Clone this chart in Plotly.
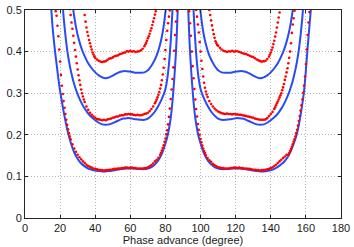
import plotly.graph_objects as go

# ---------------- data ----------------
# Blue theory curves, left lobe (0-90) and right lobe (90-180)
b1_left_x = [15.0, 15.5, 16, 17, 18, 19, 20, 21, 22, 23, 24, 25, 26, 27, 28, 30, 32, 34, 36, 38, 40, 42, 44, 46, 48, 50,
             52, 54, 56, 58, 60, 62, 64, 66, 68, 70, 72, 74, 76, 78, 79, 80, 81, 82, 83, 84, 84.5, 85, 85.5, 86, 86.5, 87]
b1_left_y = [0.50, 0.47, 0.445, 0.405, 0.37, 0.335, 0.305, 0.28, 0.256, 0.234, 0.214, 0.197, 0.182, 0.169, 0.158, 0.142,
             0.131, 0.124, 0.119, 0.116, 0.114, 0.113, 0.112, 0.112, 0.113, 0.114, 0.116, 0.117, 0.118, 0.119, 0.119,
             0.119, 0.118, 0.1175, 0.1175, 0.119, 0.122, 0.129, 0.139, 0.155, 0.166, 0.179, 0.194, 0.214, 0.24, 0.28,
             0.305, 0.333, 0.365, 0.40, 0.445, 0.50]
b1_right_x = [93, 93.5, 94, 94.5, 95, 95.5, 96, 97, 98, 99, 100, 101, 102, 104, 106, 108, 110, 112, 114, 116, 118, 120,
              122, 124, 126, 128, 130, 132, 134, 136, 138, 140, 142, 144, 146, 148, 150, 151, 152, 153, 154, 155, 156,
              157, 158, 159, 160, 161, 162, 162.8]
b1_right_y = [0.50, 0.445, 0.40, 0.365, 0.333, 0.305, 0.28, 0.24, 0.214, 0.194, 0.179, 0.166, 0.155, 0.139, 0.129, 0.122,
              0.119, 0.1175, 0.1175, 0.118, 0.119, 0.119, 0.119, 0.118, 0.117, 0.116, 0.114, 0.113, 0.112, 0.112, 0.113,
              0.115, 0.118, 0.123, 0.129, 0.137, 0.149, 0.157, 0.167, 0.178, 0.19, 0.205, 0.224, 0.248, 0.275, 0.307,
              0.355, 0.41, 0.46, 0.50]

b2_left_x = [21.7, 22, 23, 24, 25, 26, 27, 28, 29, 30, 32, 34, 36, 38, 40, 42, 44, 46, 48, 50, 52, 54, 56, 58, 60, 62,
             64, 66, 68, 70, 72, 74, 76, 77, 78, 79, 80, 81, 82, 82.5, 83, 83.5, 84]
b2_left_y = [0.50, 0.483, 0.44, 0.405, 0.378, 0.356, 0.338, 0.322, 0.309, 0.297, 0.278, 0.263, 0.251, 0.242, 0.235,
             0.229, 0.225, 0.224, 0.225, 0.228, 0.232, 0.236, 0.239, 0.24, 0.24, 0.238, 0.237, 0.236, 0.236, 0.239,
             0.246, 0.256, 0.27, 0.278, 0.287, 0.297, 0.31, 0.333, 0.37, 0.395, 0.425, 0.46, 0.50]
b2_right_x = [96, 96.5, 97, 97.5, 98, 99, 100, 101, 102, 103, 104, 106, 108, 110, 112, 114, 116, 118, 120, 122, 124,
              126, 128, 130, 132, 134, 136, 138, 140, 142, 144, 146, 148, 150, 151, 152, 153, 154, 155, 156, 157, 158,
              158.3]
b2_right_y = [0.50, 0.46, 0.425, 0.395, 0.37, 0.333, 0.31, 0.297, 0.287, 0.278, 0.27, 0.256, 0.246, 0.239, 0.236, 0.236,
              0.237, 0.238, 0.24, 0.24, 0.239, 0.236, 0.232, 0.228, 0.225, 0.224, 0.225, 0.229, 0.235, 0.242, 0.251,
              0.263, 0.278, 0.297, 0.309, 0.322, 0.338, 0.356, 0.378, 0.405, 0.44, 0.483, 0.50]

b3_left_x = [27.5, 28, 29, 30, 31, 32, 33, 34, 35, 36, 38, 40, 42, 44, 46, 48, 50, 52, 54, 56, 58, 60, 62, 64, 66, 68,
             70, 71, 72, 73, 74, 75, 76, 77, 78, 79, 80, 80.2]
b3_left_y = [0.50, 0.485, 0.46, 0.44, 0.424, 0.41, 0.399, 0.389, 0.38, 0.372, 0.36, 0.35, 0.343, 0.338, 0.336, 0.338,
             0.342, 0.347, 0.351, 0.353, 0.353, 0.352, 0.35, 0.349, 0.349, 0.35, 0.355, 0.36, 0.366, 0.373, 0.381,
             0.391, 0.403, 0.418, 0.437, 0.462, 0.495, 0.50]
b3_right_x = [99.8, 100, 101, 102, 103, 104, 105, 106, 107, 108, 109, 110, 112, 114, 116, 118, 120, 122, 124, 126, 128,
              130, 132, 134, 136, 138, 140, 142, 144, 145, 146, 147, 148, 149, 150, 151, 152, 152.5]
b3_right_y = [0.50, 0.495, 0.462, 0.437, 0.418, 0.403, 0.391, 0.381, 0.373, 0.366, 0.36, 0.355, 0.35, 0.349, 0.349, 0.35,
              0.352, 0.353, 0.353, 0.351, 0.347, 0.342, 0.338, 0.336, 0.338, 0.343, 0.35, 0.36, 0.372, 0.38, 0.389,
              0.399, 0.41, 0.424, 0.44, 0.46, 0.485, 0.50]

# Red simulation points
r1_x = [17.5, 18, 18.5, 19, 19.5, 20, 20.5, 21, 21.5, 22, 22.5, 23, 23.5, 24, 24.5, 25, 25.5, 26, 27, 28, 29, 30, 31, 32,
        33, 34, 35, 36, 37, 38, 39, 40, 41, 42, 43, 44, 45, 46, 47, 48, 49, 50, 51, 52, 53, 54, 55, 56, 57, 58, 59, 60,
        61, 62, 63, 64, 65, 66, 67, 68, 69, 70, 71, 72, 73, 74, 75, 76, 77, 77.5, 78, 78.5, 79, 79.5, 80, 80.5, 81,
        81.5, 82, 82.5, 83, 83.5, 84, 84.5, 85, 85.5, 86, 86.5,
        93.5, 94, 94.5, 95, 95.5, 96, 96.5, 97, 97.5, 98, 98.5, 99, 99.5, 100, 100.5, 101, 101.5, 102, 102.5, 103, 104,
        105, 106, 107, 108, 109, 110, 111, 112, 113, 114, 115, 116, 117, 118, 119, 120, 121, 122, 123, 124, 125, 126,
        127, 128, 129, 130, 131, 132, 133, 134, 135, 136, 137, 138, 139, 140, 141, 142, 143, 144, 145, 146, 147, 148,
        149, 150, 150.5, 151, 151.5, 152, 152.5, 153, 153.5, 154, 154.5, 155, 155.5, 156, 156.5, 157, 157.5, 158,
        158.5, 159, 159.5, 160, 160.5, 161, 161.5, 162]
r1_y = [0.497, 0.486, 0.462, 0.437, 0.405, 0.376, 0.344, 0.318, 0.298, 0.281, 0.265, 0.250, 0.236, 0.224, 0.213, 0.204,
        0.196, 0.189, 0.177, 0.167, 0.159, 0.152, 0.146, 0.141, 0.136, 0.132, 0.128, 0.125, 0.123, 0.121, 0.119, 0.118,
        0.117, 0.116, 0.115, 0.115, 0.114, 0.115, 0.115, 0.116, 0.116, 0.117, 0.118, 0.118, 0.119, 0.119, 0.120, 0.120,
        0.121, 0.121, 0.120, 0.121, 0.121, 0.120, 0.120, 0.119, 0.119, 0.119, 0.119, 0.120, 0.120, 0.122, 0.124, 0.127,
        0.131, 0.136, 0.140, 0.145, 0.152, 0.157, 0.162, 0.168, 0.175, 0.183, 0.191, 0.201, 0.211, 0.225, 0.243, 0.263,
        0.286, 0.309, 0.334, 0.362, 0.402, 0.440, 0.472, 0.498,
        0.497, 0.468, 0.438, 0.400, 0.365, 0.336, 0.310, 0.285, 0.262, 0.244, 0.226, 0.212, 0.200, 0.190, 0.182, 0.174,
        0.167, 0.161, 0.156, 0.151, 0.144, 0.139, 0.135, 0.130, 0.127, 0.124, 0.122, 0.121, 0.120, 0.120, 0.119, 0.119,
        0.119, 0.120, 0.120, 0.121, 0.121, 0.120, 0.121, 0.120, 0.120, 0.119, 0.119, 0.118, 0.118, 0.117, 0.116, 0.116,
        0.115, 0.115, 0.114, 0.115, 0.115, 0.116, 0.117, 0.118, 0.120, 0.122, 0.125, 0.128, 0.132, 0.136, 0.140, 0.144,
        0.148, 0.152, 0.152, 0.156, 0.161, 0.166, 0.171, 0.177, 0.183, 0.189, 0.196, 0.204, 0.212, 0.222, 0.233, 0.245,
        0.258, 0.271, 0.285, 0.301, 0.318, 0.340, 0.370, 0.405, 0.440, 0.470, 0.495]

r2_x = [25.5, 26, 26.5, 27, 27.5, 28, 28.5, 29, 29.5, 30, 30.5, 31, 31.5, 32, 32.5, 33, 33.5, 34, 35, 36, 37, 38, 39, 40,
        41, 42, 43, 44, 45, 46, 47, 48, 49, 50, 51, 52, 53, 54, 55, 56, 57, 58, 59, 60, 61, 62, 63, 64, 65, 66, 67, 68,
        69, 70, 71, 72, 73, 74, 74.5, 75, 75.5, 76, 76.5, 77, 77.5, 78, 78.5, 79, 79.5, 80, 80.5, 81, 81.5, 82, 82.5,
        97.5, 98, 98.5, 99, 99.5, 100, 100.5, 101, 101.5, 102, 102.5, 103, 103.5, 104, 105, 106, 107, 108, 109, 110,
        111, 112, 113, 114, 115, 116, 117, 118, 119, 120, 121, 122, 123, 124, 125, 126, 127, 128, 129, 130, 131, 132,
        133, 134, 135, 136, 137, 138, 139, 140, 141, 142, 142.5, 143, 143.5, 144, 144.5, 145, 145.5, 146, 146.5, 147,
        147.5, 148, 148.5, 149, 149.5, 150, 150.5, 151, 151.5, 152, 152.5, 153, 153.5]
r2_y = [0.502, 0.488, 0.470, 0.455, 0.438, 0.421, 0.404, 0.388, 0.372, 0.357, 0.343, 0.331, 0.320, 0.309, 0.300, 0.292,
        0.285, 0.279, 0.268, 0.260, 0.253, 0.248, 0.244, 0.241, 0.238, 0.237, 0.236, 0.235, 0.236, 0.235, 0.237, 0.238,
        0.239, 0.241, 0.242, 0.244, 0.244, 0.246, 0.247, 0.247, 0.249, 0.249, 0.250, 0.249, 0.249, 0.248, 0.247, 0.248,
        0.247, 0.247, 0.248, 0.250, 0.251, 0.253, 0.257, 0.262, 0.268, 0.276, 0.280, 0.285, 0.290, 0.296, 0.303, 0.311,
        0.320, 0.331, 0.345, 0.361, 0.382, 0.404, 0.428, 0.450, 0.468, 0.484, 0.499,
        0.500, 0.484, 0.465, 0.446, 0.423, 0.400, 0.378, 0.358, 0.340, 0.325, 0.313, 0.304, 0.297, 0.291, 0.281, 0.274,
        0.268, 0.263, 0.259, 0.256, 0.254, 0.252, 0.251, 0.250, 0.251, 0.250, 0.250, 0.249, 0.250, 0.249, 0.249, 0.248,
        0.248, 0.247, 0.246, 0.245, 0.244, 0.243, 0.242, 0.241, 0.239, 0.238, 0.237, 0.236, 0.236, 0.236, 0.237, 0.240,
        0.245, 0.250, 0.255, 0.262, 0.266, 0.271, 0.276, 0.280, 0.285, 0.290, 0.295, 0.300, 0.307, 0.314, 0.322, 0.332,
        0.340, 0.350, 0.360, 0.372, 0.385, 0.400, 0.420, 0.445, 0.465, 0.480, 0.498]

r3_x = [33.5, 34, 34.5, 35, 35.5, 36, 36.5, 37, 37.5, 38, 38.5, 39, 39.5, 40, 41, 42, 43, 44, 45, 46, 47, 48, 49, 50, 51,
        52, 53, 54, 55, 56, 57, 58, 59, 60, 61, 62, 63, 64, 65, 66, 67, 68, 68.5, 69, 69.5, 70, 70.5, 71, 71.5, 72,
        72.5, 73, 73.5, 74, 74.5,
        105, 105.5, 106, 106.5, 107, 107.5, 108, 108.5, 109, 109.5, 110, 111, 112, 113, 114, 115, 116, 117, 118, 119,
        120, 121, 122, 123, 124, 125, 126, 127, 128, 129, 130, 131, 132, 133, 134, 135, 136, 137, 138, 139, 139.5,
        140, 140.5, 141, 141.5, 142, 142.5, 143, 143.5, 144, 144.5, 145]
r3_y = [0.503, 0.488, 0.472, 0.458, 0.447, 0.438, 0.428, 0.420, 0.412, 0.405, 0.398, 0.393, 0.388, 0.385, 0.381, 0.378,
        0.376, 0.375, 0.376, 0.377, 0.380, 0.383, 0.384, 0.386, 0.389, 0.390, 0.391, 0.394, 0.395, 0.397, 0.398, 0.401,
        0.400, 0.402, 0.400, 0.401, 0.399, 0.400, 0.401, 0.403, 0.407, 0.413, 0.417, 0.421, 0.426, 0.432, 0.437, 0.443,
        0.450, 0.456, 0.464, 0.472, 0.480, 0.489, 0.497,
        0.500, 0.488, 0.475, 0.463, 0.452, 0.442, 0.433, 0.425, 0.420, 0.416, 0.414, 0.409, 0.405, 0.402, 0.401, 0.399,
        0.401, 0.400, 0.402, 0.400, 0.401, 0.401, 0.399, 0.398, 0.396, 0.395, 0.394, 0.392, 0.390, 0.388, 0.387, 0.384,
        0.381, 0.379, 0.377, 0.376, 0.377, 0.378, 0.382, 0.388, 0.393, 0.398, 0.404, 0.410, 0.418, 0.426, 0.436, 0.446,
        0.458, 0.470, 0.482, 0.494]

x_ticks = [0, 20, 40, 60, 80, 100, 120, 140, 160, 180]
y_ticks = [0, 0.1, 0.2, 0.3, 0.4, 0.5]
y_tick_labels = ["0", "0.1", "0.2", "0.3", "0.4", "0.5"]
x_title = "Phase advance (degree)"

BLUE = "rgb(40,75,245)"
RED = "rgb(255,0,0)"
FONT = "Liberation Sans, Arial, sans-serif"

fig = go.Figure()

blue_curves = [(b1_left_x, b1_left_y, b1_right_x, b1_right_y),
               (b2_left_x, b2_left_y, b2_right_x, b2_right_y),
               (b3_left_x, b3_left_y, b3_right_x, b3_right_y)]
for lx, ly, rx, ry in blue_curves:
    fig.add_trace(go.Scatter(x=lx + [None] + rx, y=ly + [None] + ry, mode="lines",
                             line=dict(color=BLUE, width=2, shape="spline", smoothing=0.6),
                             hoverinfo="skip", showlegend=False))

for rx, ry in [(r1_x, r1_y), (r2_x, r2_y), (r3_x, r3_y)]:
    fig.add_trace(go.Scatter(x=rx, y=ry, mode="markers",
                             marker=dict(color=RED, size=2.6, line=dict(width=0)),
                             hoverinfo="skip", showlegend=False))

axis_common = dict(showline=True, linecolor="#262626", linewidth=1, mirror="ticks",
                   ticks="inside", ticklen=3, tickcolor="#262626", automargin=False,
                   showgrid=True, gridcolor="#b4b4b4", gridwidth=1, griddash="1px,2px",
                   zeroline=False, tickfont=dict(family=FONT, size=11, color="#1a1a1a"))

fig.update_xaxes(range=[0, 180], tickmode="array", tickvals=x_ticks,
                 title=dict(text=x_title, standoff=0, font=dict(family=FONT, size=11, color="#1a1a1a")),
                 **axis_common)
fig.update_yaxes(range=[0, 0.5], tickmode="array", tickvals=y_ticks, ticktext=y_tick_labels, **axis_common)

fig.update_layout(width=354, height=247, margin=dict(l=25, r=13, t=10, b=29, autoexpand=False),
                  paper_bgcolor="white", plot_bgcolor="white")

fig.write_html("out.html", config={"displayModeBar": False, "staticPlot": True},
               post_script="document.body.style.margin='0px';document.body.style.padding='0px';")
